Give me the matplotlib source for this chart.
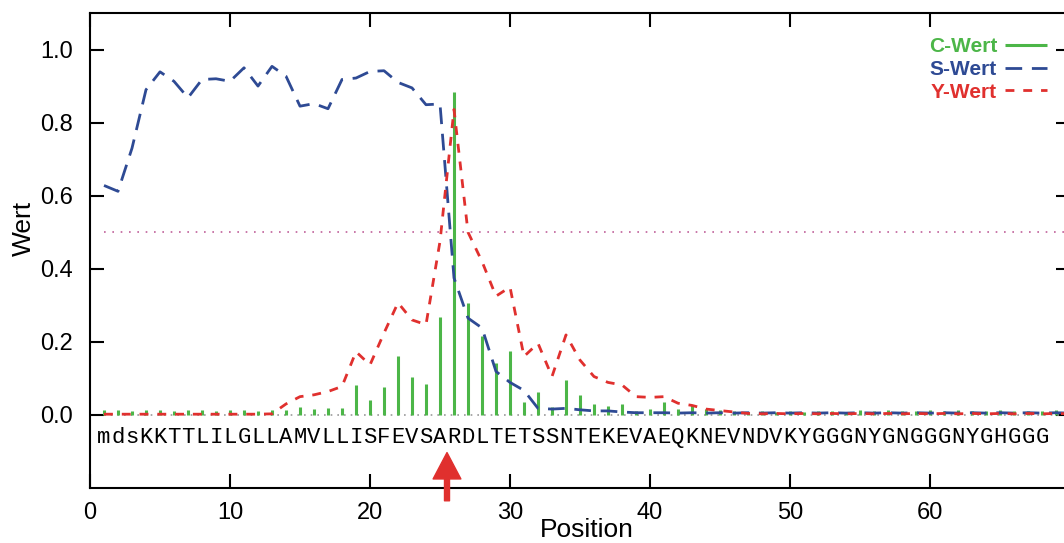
import numpy as np
import matplotlib
matplotlib.use('Agg')
import matplotlib.pyplot as plt

plt.rcParams['font.family'] = ['Liberation Sans', 'DejaVu Sans']

# positions of the sequence
positions = np.arange(1, 71)

sequence = "mdsKKTTLILGLLAMVLLISFEVSARDLTETSSNTEKEVAEQKNEVNDVKYGGGNYGNGGGNYGHGGG"

c_values = [0.013, 0.013, 0.012, 0.013, 0.013, 0.012, 0.013, 0.013, 0.012, 0.013,
            0.013, 0.012, 0.014, 0.014, 0.021, 0.016, 0.019, 0.019, 0.082, 0.041,
            0.076, 0.162, 0.103, 0.084, 0.267, 0.883, 0.306, 0.217, 0.141, 0.175,
            0.035, 0.064, 0.021, 0.096, 0.055, 0.030, 0.025, 0.030, 0.012, 0.016,
            0.036, 0.016, 0.027, 0.016, 0.013, 0.010, 0.008, 0.012, 0.008, 0.010,
            0.008, 0.012, 0.010, 0.008, 0.014, 0.010, 0.014, 0.012, 0.010, 0.014,
            0.012, 0.014, 0.010, 0.012, 0.014, 0.010, 0.012, 0.010, 0.014, 0.010]

s_values = [0.628, 0.612, 0.730, 0.890, 0.939, 0.913, 0.868, 0.918, 0.920, 0.913,
            0.950, 0.900, 0.954, 0.927, 0.845, 0.852, 0.838, 0.918, 0.922, 0.940,
            0.942, 0.910, 0.895, 0.849, 0.851, 0.375, 0.265, 0.238, 0.119, 0.089,
            0.067, 0.018, 0.016, 0.018, 0.014, 0.011, 0.011, 0.008, 0.006, 0.006,
            0.006, 0.005, 0.006, 0.005, 0.006, 0.005, 0.006, 0.005, 0.006, 0.005,
            0.006, 0.005, 0.006, 0.005, 0.006, 0.005, 0.006, 0.005, 0.006, 0.005,
            0.006, 0.005, 0.006, 0.005, 0.006, 0.005, 0.006, 0.005, 0.006, 0.005]

y_values = [0.002, 0.002, 0.002, 0.002, 0.002, 0.002, 0.002, 0.002, 0.002, 0.002,
            0.002, 0.002, 0.003, 0.030, 0.050, 0.055, 0.064, 0.078, 0.173, 0.137,
            0.224, 0.307, 0.260, 0.247, 0.475, 0.836, 0.500, 0.420, 0.325, 0.350,
            0.160, 0.196, 0.105, 0.219, 0.150, 0.105, 0.089, 0.082, 0.050, 0.048,
            0.050, 0.032, 0.026, 0.016, 0.012, 0.008, 0.004, 0.003, 0.004, 0.003,
            0.004, 0.003, 0.004, 0.003, 0.004, 0.003, 0.004, 0.003, 0.004, 0.003,
            0.004, 0.003, 0.004, 0.003, 0.004, 0.003, 0.004, 0.003, 0.004, 0.003]

threshold = 0.5
cleavage_site = 25.5

green = '#4cb648'
blue = '#2e4a94'
red = '#e0302e'

fig = plt.figure(figsize=(10.64, 5.43), dpi=100)
ax = fig.add_axes([90/1064, 55/543, 980/1064, 475/543])

# threshold and baseline
ax.plot([1, 70], [threshold, threshold], color='#c0609a', linestyle=(0, (1, 4)), linewidth=1.2)
ax.plot([1, 70], [0, 0], color='#999999', linestyle=(0, (1, 3)), linewidth=1.2)

ax.vlines(positions, 0, c_values, color=green, linewidth=2.2, label='C-Wert')
ax.plot(positions, s_values, color=blue, linewidth=2, dashes=(6, 3.5), label='S-Wert')
ax.plot(positions, y_values, color=red, linewidth=2, dashes=(3.2, 3.2), label='Y-Wert')

# sequence letters under the curve, one per position
for i, ch in enumerate(sequence):
    ax.text(i + 1, -0.062, ch, ha='center', va='center', fontsize=16,
            family='Liberation Mono', color='black')

# cleavage site arrow
ax.annotate('', xy=(cleavage_site, -0.103), xytext=(cleavage_site, -0.235),
            arrowprops=dict(facecolor=red, edgecolor=red, width=3.6,
                            headwidth=20, headlength=19, shrink=0),
            annotation_clip=False)

ax.set_xlim(0, 70)
ax.set_ylim(-0.2, 1.1)
ax.set_xticks([0, 10, 20, 30, 40, 50, 60])
ax.set_yticks([0.0, 0.2, 0.4, 0.6, 0.8, 1.0])
ax.set_yticklabels(['0.0', '0.2', '0.4', '0.6', '0.8', '1.0'])
ax.tick_params(direction='in', length=10, width=1.5, top=True, right=True,
               labelsize=17, pad=10)
ax.tick_params(axis='y', pad=12)
for sp in ax.spines.values():
    sp.set_linewidth(1.5)

ax.set_xlabel('Position', fontsize=19)
ax.set_ylabel('Wert', fontsize=19)
ax.xaxis.set_label_coords(0.507, -0.063)
ax.yaxis.set_label_coords(-0.055, 0.547)

leg = ax.legend(loc='upper right', bbox_to_anchor=(1047/1064, 0.931),
                bbox_transform=fig.transFigure, frameon=False, markerfirst=False,
                prop={'weight': 'bold', 'size': 15}, labelspacing=0.17,
                handlelength=2.0, handletextpad=0.4, borderpad=0, borderaxespad=0)
for txt, col in zip(leg.get_texts(), [green, blue, red]):
    txt.set_color(col)

fig.savefig('out.png', dpi=100)
